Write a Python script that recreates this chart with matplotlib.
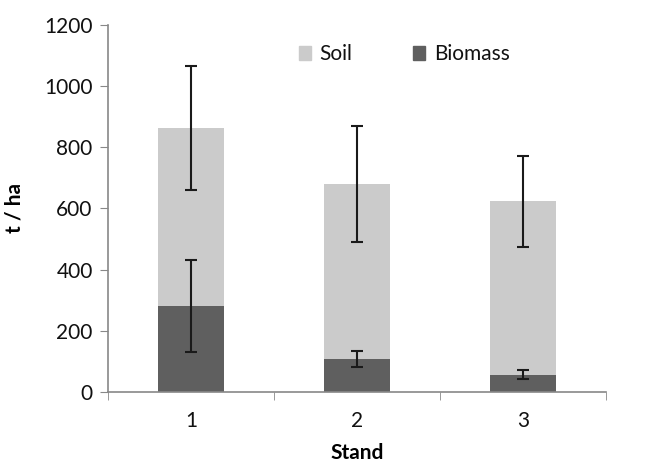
import matplotlib.pyplot as plt
from matplotlib.patches import Patch

stands = ["1", "2", "3"]
biomass = [282, 108, 56]
soil = [581, 572, 567]
biomass_err = [151, 25, 15]
total_err = [202, 190, 148]

plt.rcParams['font.family'] = ['Lato', 'DejaVu Sans']
plt.rcParams['text.color'] = '#111111'

fig = plt.figure(figsize=(6.49, 4.66), dpi=100)
ax = fig.add_axes([0.1664, 0.1588, 0.7676, 0.7877])

x = list(range(len(stands)))
totals = [b + s for b, s in zip(biomass, soil)]

ax.bar(x, biomass, width=0.4, color="#5f5f5f", zorder=2)
ax.bar(x, soil, width=0.4, bottom=biomass, color="#cbcbcb", zorder=2)
ax.errorbar(x, biomass, yerr=biomass_err, fmt="none", ecolor="#1a1a1a",
            elinewidth=1.5, capsize=4, capthick=1.5, zorder=3)
ax.errorbar(x, totals, yerr=total_err, fmt="none", ecolor="#1a1a1a",
            elinewidth=1.5, capsize=4, capthick=1.5, zorder=3)

ax.set_xlim(-0.5, len(stands) - 0.5)
ax.set_ylim(0, 1200)
ax.set_yticks(range(0, 1201, 200))
ax.set_xticks(x)
ax.set_xticklabels(stands)
ax.set_xticks([-0.5, 0.5, 1.5, 2.5], minor=True)
ax.tick_params(axis="x", which="major", length=0, pad=14, labelsize=15, labelcolor="#111111")
ax.tick_params(axis="x", which="minor", length=6, color="#888888", direction="out")
ax.tick_params(axis="y", length=6, color="#888888", labelsize=15, pad=5, labelcolor="#111111")

for s in ["top", "right"]:
    ax.spines[s].set_visible(False)
for s in ["left", "bottom"]:
    ax.spines[s].set_color("#888888")
    ax.spines[s].set_linewidth(1.2)

ax.set_xlabel("Stand", fontsize=15, fontweight="bold", labelpad=8)
ax.set_ylabel("t / ha", fontsize=15, fontweight="bold", labelpad=14)

handles = [Patch(color="#cbcbcb", label="Soil"), Patch(color="#5f5f5f", label="Biomass")]
ax.legend(handles=handles, loc="center left", bbox_to_anchor=(0.345, 0.92), ncol=2,
          frameon=False, fontsize=15, handlelength=0.6, handleheight=0.6,
          handletextpad=0.4, columnspacing=2.9)

fig.savefig("out.png", dpi=100)
